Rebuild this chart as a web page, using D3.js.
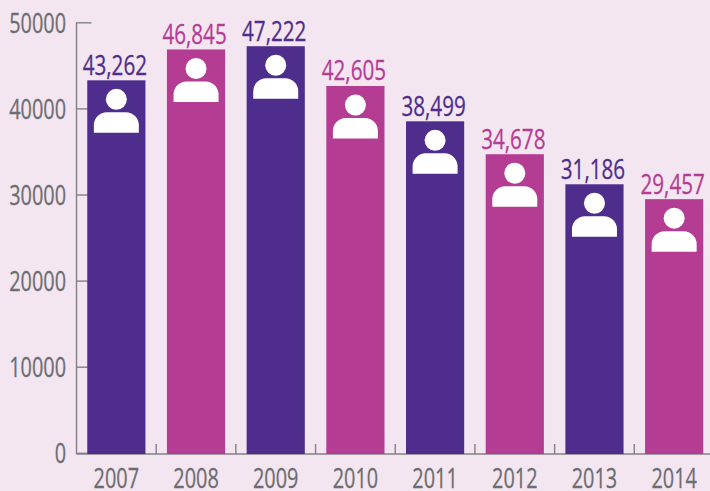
<!DOCTYPE html>
<html>
<head>
<meta charset="utf-8">
<script src="https://cdn.jsdelivr.net/npm/d3@7"></script>
<style>
  html, body { margin: 0; padding: 0; background: #f3e6f1; }
  svg { display: block; }
  text { font-family: "Open Sans", sans-serif; }
  .axis path, .axis line { stroke: #838083; stroke-width: 1.4px; }
  .axis text { fill: #6d6e71; font-size: 26.5px; stroke: #6d6e71; stroke-width: 0.3px; }
</style>
</head>
<body>
<svg id="chart"></svg>
<script>
var years = ["2007", "2008", "2009", "2010", "2011", "2012", "2013", "2014"];
var people = [43262, 46845, 47222, 42605, 38499, 34678, 31186, 29457];
var yTicks = [0, 10000, 20000, 30000, 40000, 50000];
var barColors = ["#4f2d8c", "#b53c93"];

var width = 710, height = 491;
var narrow = "scale(0.75,1)"; // no condensed font here, so squeeze Open Sans

var svg = d3.select("#chart")
    .attr("width", width)
    .attr("height", height);

var x = d3.scaleBand()
    .domain(years)
    .range([76.5, 714])
    .paddingInner(0.27)
    .paddingOuter(0.135);

var y = d3.scaleLinear()
    .domain([0, 50000])
    .range([452.8, 22.3]);

var baseY = y(0) + 1.2;

// axis goes in first, the bars sit on top of the tick stubs
var yAxis = svg.append("g")
    .attr("class", "axis")
    .attr("transform", "translate(76.5,0)")
    .call(d3.axisLeft(y).tickValues(yTicks).tickFormat(d3.format("d")).tickSize(-15));
yAxis.select(".domain").remove();
yAxis.append("line").attr("y1", y(50000)).attr("y2", baseY);
yAxis.selectAll(".tick text")
    .attr("x", 0)
    .attr("y", 1.5)
    .attr("transform", "translate(-10.5,0) " + narrow);

var xAxis = svg.append("g")
    .attr("class", "axis")
    .attr("transform", "translate(0," + baseY + ")")
    .call(d3.axisBottom(x).tickSize(0).tickPadding(14));
xAxis.select(".domain").remove();
xAxis.append("line").attr("x1", 76.5).attr("x2", 714);
xAxis.selectAll(".tick text")
    .style("font-size", "28px")
    .attr("transform", "scale(0.71,1)");

// separators between the years
xAxis.selectAll(".sep")
    .data(years.slice(1))
    .enter().append("line")
    .attr("class", "sep")
    .attr("x1", function(d) { return x(d) - x.step() * x.paddingInner() / 2; })
    .attr("x2", function(d) { return x(d) - x.step() * x.paddingInner() / 2; })
    .attr("y1", 0)
    .attr("y2", -10);

var bar = svg.selectAll(".bar")
    .data(people)
  .enter().append("g")
    .attr("class", "bar")
    .attr("transform", function(d, i) { return "translate(" + x(years[i]) + ",0)"; });

bar.append("rect")
    .attr("y", function(d) { return y(d); })
    .attr("width", x.bandwidth())
    .attr("height", function(d) { return baseY - y(d); })
    .attr("fill", function(d, i) { return barColors[i % 2]; });

bar.append("text")
    .attr("text-anchor", "middle")
    .attr("transform", function(d) { return "translate(" + (x.bandwidth() / 2 - 1.5) + "," + (y(d) - 5.5) + ") " + narrow; })
    .style("font-size", "27.5px")
    .style("stroke-width", "0.3px")
    .attr("fill", function(d, i) { return barColors[i % 2]; })
    .attr("stroke", function(d, i) { return barColors[i % 2]; })
    .text(d3.format(","));

// little person icon
var icon = bar.append("g")
    .attr("transform", function(d) { return "translate(" + x.bandwidth() / 2 + "," + (y(d) + 19) + ")"; })
    .attr("fill", "#fff");

icon.append("circle").attr("r", 10.5);
icon.append("path").attr("d", "M-22.5,33.5V26a13,13 0 0 1 13,-13H9.5a13,13 0 0 1 13,13V33.5Z");
</script>
</body>
</html>
